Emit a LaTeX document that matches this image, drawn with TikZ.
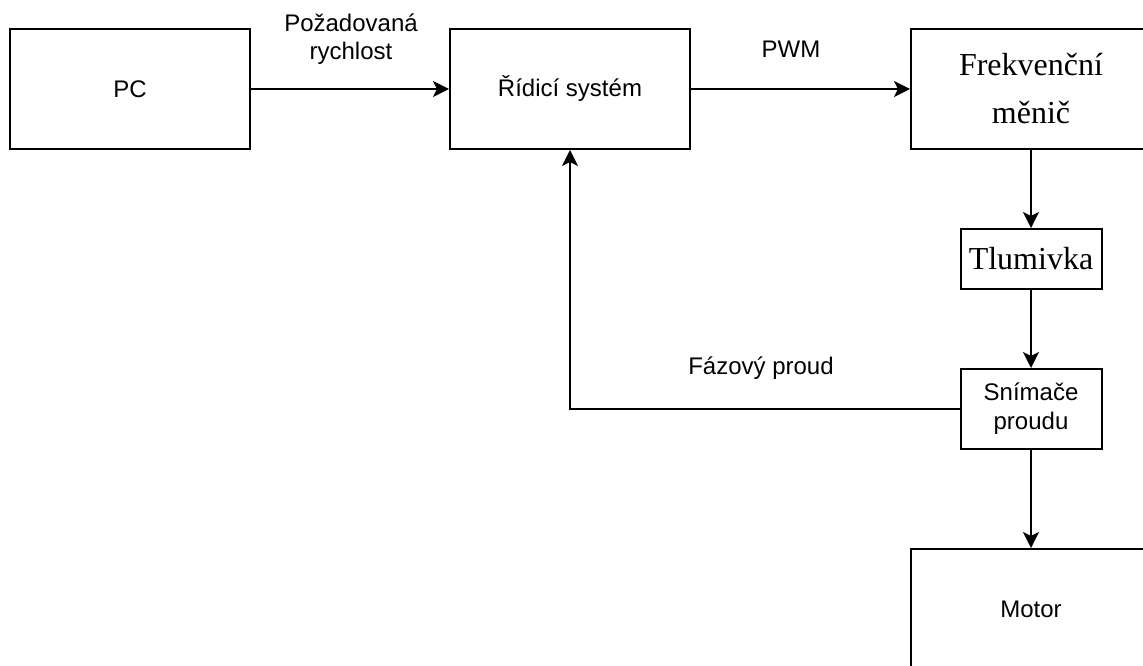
\documentclass[tikz,border=0pt]{standalone}
\usepackage{fontspec}
\setmainfont{Liberation Sans}
\newfontfamily\timesf{Liberation Serif}
\usetikzlibrary{arrows.meta}
\begin{document}
\begin{tikzpicture}[x=0.75pt,y=-0.75pt,
  blk/.style={draw=black,line width=1.5pt,fill=white,inner sep=0pt,align=center,
    font=\fontsize{18}{21.6}\selectfont},
  serifblk/.style={blk,font=\timesf\fontsize{24}{36}\selectfont},
  lbl/.style={inner sep=0pt,align=center,font=\fontsize{18}{21}\selectfont},
  conn/.style={line width=1.5pt,-{Stealth[length=12pt,width=12pt,inset=3pt]}}]
\useasboundingbox (0,0) rectangle (1143,666);
\clip (0,0) rectangle (1143,666);
\fill[white] (0,0) rectangle (1143,666);
\node[blk,minimum width=180pt,minimum height=90pt] (pc) at (130,89) {PC};
\node[blk,minimum width=180pt,minimum height=90pt] (ctrl) at (570,89) {Řídicí systém};
\node[serifblk,minimum width=180pt,minimum height=90pt] (fm) at (1031,89) {Frekvenční\\měnič};
\node[serifblk,minimum width=105.75pt,minimum height=45pt] (tl) at (1031,259) {Tlumivka};
\node[blk,minimum width=105.75pt,minimum height=60pt] (sn) at (1031,409) {Snímače\\proudu};
\node[blk,minimum width=180pt,minimum height=90pt] (mo) at (1031,609) {Motor};
\draw[conn] (pc.east) -- (ctrl.west);
\draw[conn] (ctrl.east) -- (fm.west);
\draw[conn] (fm.south) -- (tl.north);
\draw[conn] (tl.south) -- (sn.north);
\draw[conn] (sn.south) -- (mo.north);
\draw[conn] (sn.west) -| (ctrl.south);
\node[lbl] (lreq) at (351,39) {Požadovaná\\rychlost};
\node[lbl] (lpwm) at (791,49.5) {PWM};
\node[lbl] (lfaz) at (761,368.5) {Fázový proud};
\end{tikzpicture}
\end{document}
